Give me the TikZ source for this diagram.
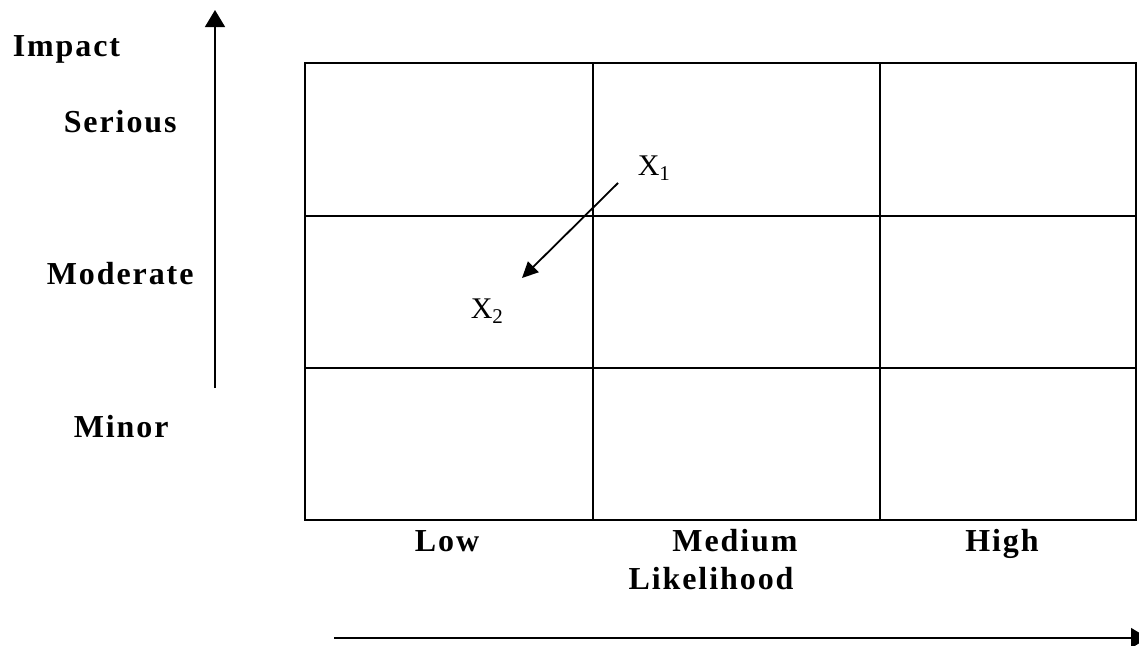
\documentclass[tikz,border=0pt]{standalone}
\usepackage{fontspec}
\setmainfont{Liberation Serif}
\newfontfamily\lblfont[LetterSpace=6]{Liberation Serif}
\usepackage{tikz}
\usetikzlibrary{positioning, arrows.meta}

\begin{document}
\begin{tikzpicture}[x=1pt, y=-1pt, line width=1.5pt,
  lbl/.style={font=\lblfont\bfseries\fontsize{32}{38}\selectfont, inner sep=0pt},
  pt/.style={font=\fontsize{30}{36}\selectfont, inner sep=0pt, anchor=base west}]
  \useasboundingbox (0,0) rectangle (1139,645);
  % grid
  \draw (305,63) rectangle (1136,520);
  \foreach \x in {593,880} \draw (\x,63) -- (\x,520);
  \foreach \y in {216,368} \draw (305,\y) -- (1136,\y);
  % impact labels
  \foreach \nm/\txt/\x/\y in {
    impact/Impact/12/56,
    serious/Serious/63/132,
    moderate/Moderate/46/284,
    minor/Minor/73/437%
  } {
    \node[lbl, anchor=base west] (\nm) at (\x,\y) {\txt};
  }
  % likelihood labels
  \foreach \nm/\txt/\x in {low/Low/447, medium/Medium/735, high/High/1002} {
    \node[lbl, anchor=base] (\nm) at (\x,551) {\txt};
  }
  \node[lbl, anchor=base] (likelihood) at (711,589) {Likelihood};
  % axes
  \coordinate (ybot) at (215,388);
  \coordinate (ytop) at (215,10);
  \coordinate (xleft) at (334,638);
  \coordinate (xright) at (1148,638);
  \draw[-{Triangle[length=17pt,width=20pt]}] (ybot) -- (ytop);
  \draw[-{Triangle[length=17pt,width=20pt]}] (xleft) -- (xright);
  % risk move
  \node[pt] (xone) at (637,175) {X\textsubscript{1}};
  \node[pt] (xtwo) at (470,318) {X\textsubscript{2}};
  \coordinate (from) at (618,183);
  \coordinate (to) at (522,278);
  \draw[line width=1.8pt, -{Triangle[length=16pt,width=15pt]}] (from) -- (to);
\end{tikzpicture}
\end{document}
